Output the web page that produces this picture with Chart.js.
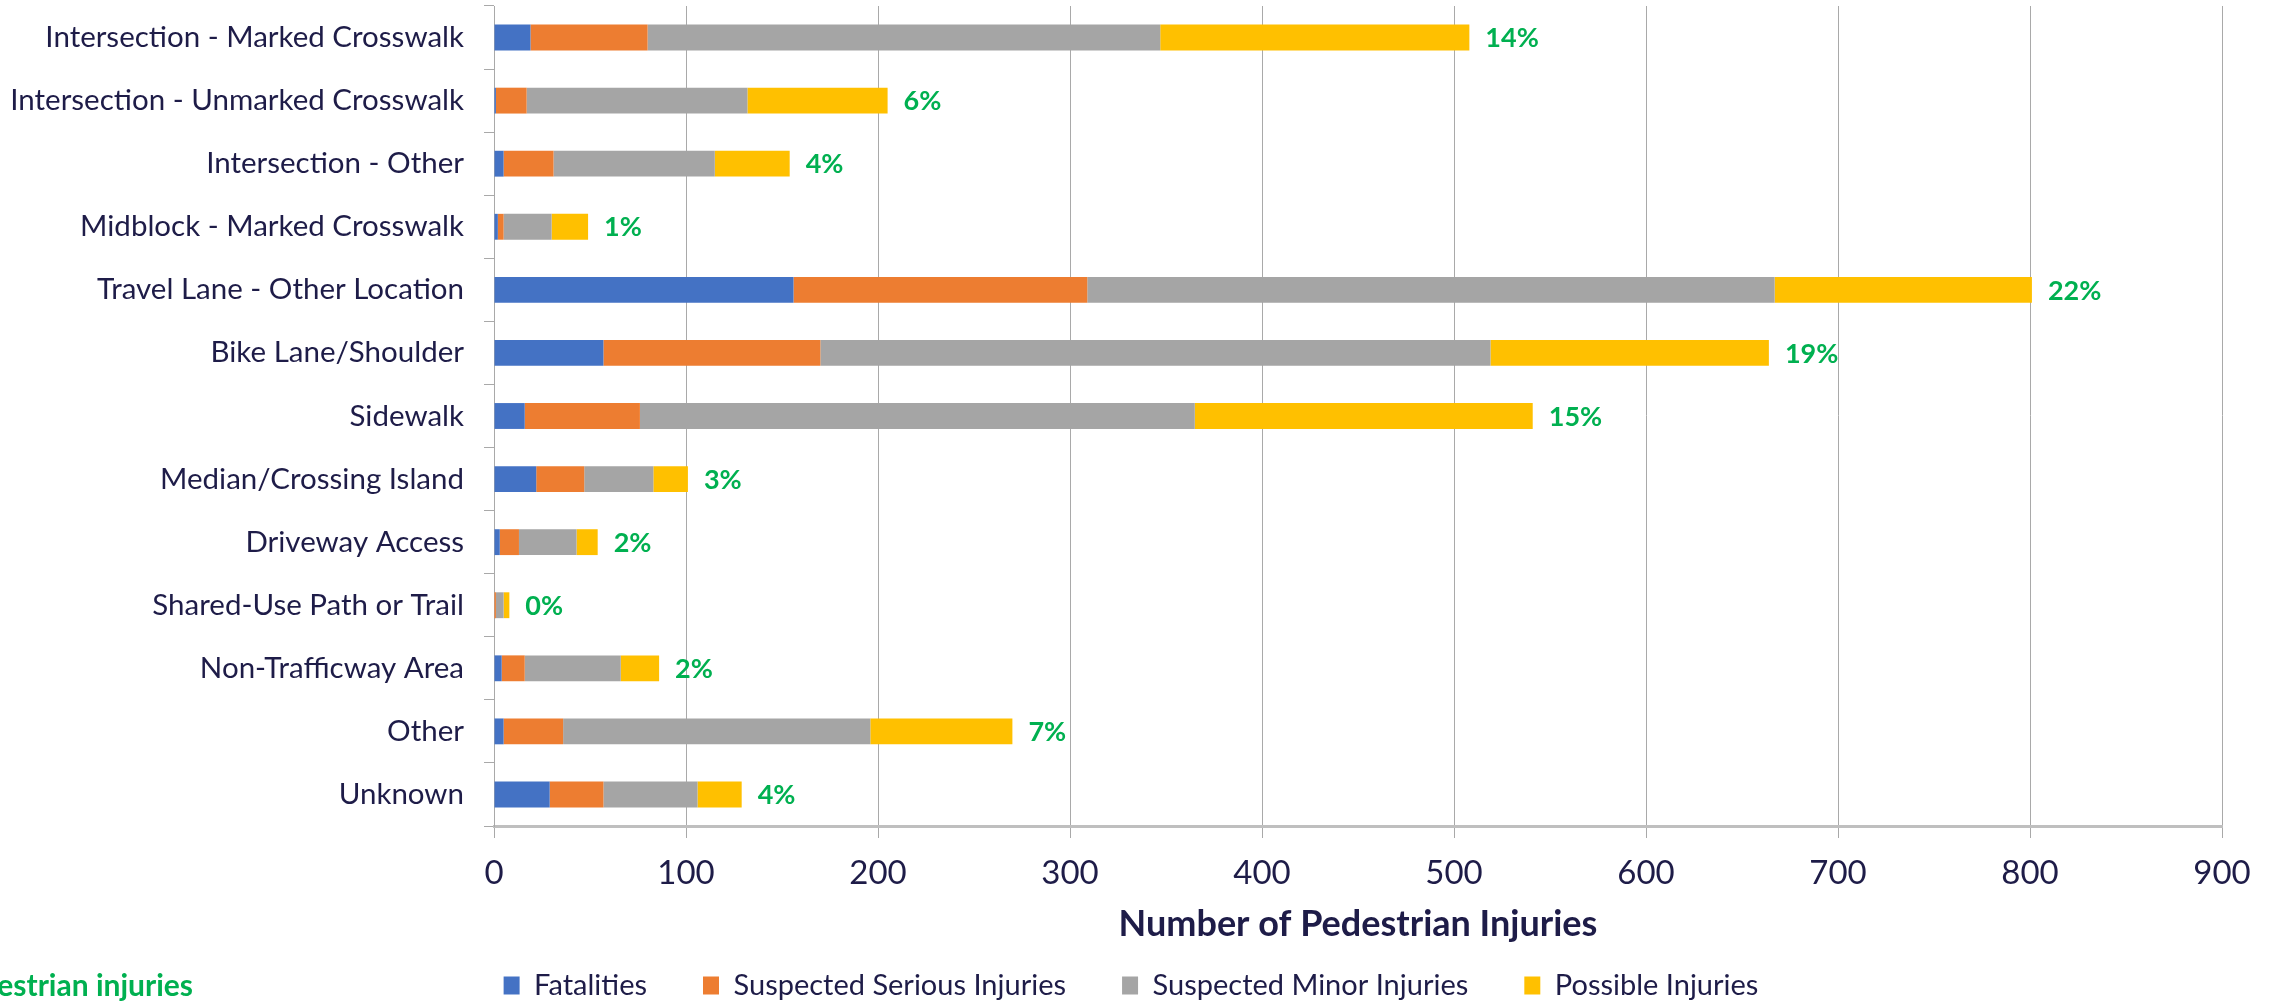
<!DOCTYPE html>
<html>
<head>
<meta charset="utf-8">
<script src="https://cdn.jsdelivr.net/npm/chart.js@4.4.0/dist/chart.umd.min.js"></script>
<style>
  html, body { margin: 0; padding: 0; background: #ffffff; }
  canvas { display: block; }
</style>
</head>
<body>
<canvas id="injuries" width="2275" height="1002" aria-label="stacked bar chart" role="img"></canvas>
<script>
var locations = [
  "Intersection - Marked Crosswalk",
  "Intersection - Unmarked Crosswalk",
  "Intersection - Other",
  "Midblock - Marked Crosswalk",
  "Travel Lane - Other Location",
  "Bike Lane/Shoulder",
  "Sidewalk",
  "Median/Crossing Island",
  "Driveway Access",
  "Shared-Use Path or Trail",
  "Non-Trafficway Area",
  "Other",
  "Unknown"
];
var fatalities = [19, 1, 5, 2, 156, 57, 16, 22, 3, 0, 4, 5, 29];
var seriousInjuries = [61, 16, 26, 3, 153, 113, 60, 25, 10, 1, 12, 31, 28];
var minorInjuries = [267, 115, 84, 25, 358, 349, 289, 36, 30, 4, 50, 160, 49];
var possibleInjuries = [161, 73, 39, 19, 134, 145, 176, 18, 11, 3, 20, 74, 23];
var shareLabels = ["14%", "6%", "4%", "1%", "22%", "19%", "15%", "3%", "2%", "0%", "2%", "7%", "4%"];
var xTicks = [0, 100, 200, 300, 400, 500, 600, 700, 800, 900];
var axisTitle = "Number of Pedestrian Injuries";

var textColor = "#1e1c48";
var green = "#00b050";
var gridColor = "#a9a9a9";

// percent of total after each bar, the x axis title, and the cut-off note at bottom left
var shareLabelPlugin = {
  id: "shareLabels",
  afterLayout: function (chart) {
    // the left padding is only there to centre the legend; let the long
    // category names use the full width so they are not clipped
    var y = chart.scales.y;
    y.left = 0;
    y.width = y.right;
  },
  afterDatasetsDraw: function (chart) {
    var ctx = chart.ctx;
    var area = chart.chartArea;
    var last = chart.getDatasetMeta(chart.data.datasets.length - 1);
    ctx.save();
    ctx.font = "bold 27px Lato";
    ctx.fillStyle = green;
    ctx.textAlign = "left";
    ctx.textBaseline = "middle";
    last.data.forEach(function (bar, i) {
      ctx.fillText(shareLabels[i], bar.x + 16, bar.y + 1);
    });
    ctx.font = "bold 30px Lato";
    ctx.textAlign = "right";
    ctx.fillText("% of pedestrian injuries", 193, 986);

    ctx.font = "bold 36px Lato";
    ctx.fillStyle = textColor;
    ctx.textAlign = "center";
    ctx.fillText(axisTitle, (area.left + area.right) / 2, 924);
    ctx.restore();
  }
};

var chart = document.getElementById("injuries").getContext("2d");
var myChart = new Chart(chart, {
  type: "bar",
  data: {
    labels: locations,
    datasets: [
      { label: "Fatalities", data: fatalities, backgroundColor: "#4472c4" },
      { label: "Suspected Serious Injuries", data: seriousInjuries, backgroundColor: "#ed7d31" },
      { label: "Suspected Minor Injuries", data: minorInjuries, backgroundColor: "#a5a5a5" },
      { label: "Possible Injuries", data: possibleInjuries, backgroundColor: "#ffc000" }
    ]
  },
  options: {
    indexAxis: "y",
    responsive: false,
    animation: false,
    devicePixelRatio: 1,
    datasets: {
      bar: { barPercentage: 0.41, categoryPercentage: 1, borderWidth: 0 }
    },
    layout: { padding: { left: 40, right: 53, top: 6, bottom: -8 } },
    plugins: {
      tooltip: { enabled: false },
      legend: {
        display: true,
        position: "bottom",
        align: "center",
        labels: {
          color: textColor,
          font: { family: "Lato", size: 29 },
          boxWidth: 16,
          boxHeight: 18,
          padding: 56
        }
      }
    },
    scales: {
      x: {
        stacked: true,
        min: 0,
        max: 900,
        afterBuildTicks: function (scale) {
          scale.ticks = xTicks.map(function (v) { return { value: v }; });
        },
        afterFit: function (scale) { scale.height = 89; },
        grid: { color: gridColor, lineWidth: 1, tickLength: 12, drawTicks: true },
        border: { display: true, color: "#bfbfbf", width: 3 },
        ticks: {
          color: textColor,
          font: { family: "Lato", size: 33 },
          padding: 16,
          maxRotation: 0
        }
      },
      y: {
        stacked: true,
        afterFit: function (scale) {
          scale.width = 454;
          scale.paddingTop = 0;
          scale.paddingBottom = 0;
        },
        grid: { drawOnChartArea: false, drawTicks: true, tickLength: 10, color: gridColor, offset: true },
        border: { display: true, color: gridColor, width: 1 },
        ticks: {
          color: textColor,
          font: { family: "Lato", size: 29.5 },
          padding: 20,
          autoSkip: false
        }
      }
    }
  },
  plugins: [shareLabelPlugin]
});
</script>
</body>
</html>
